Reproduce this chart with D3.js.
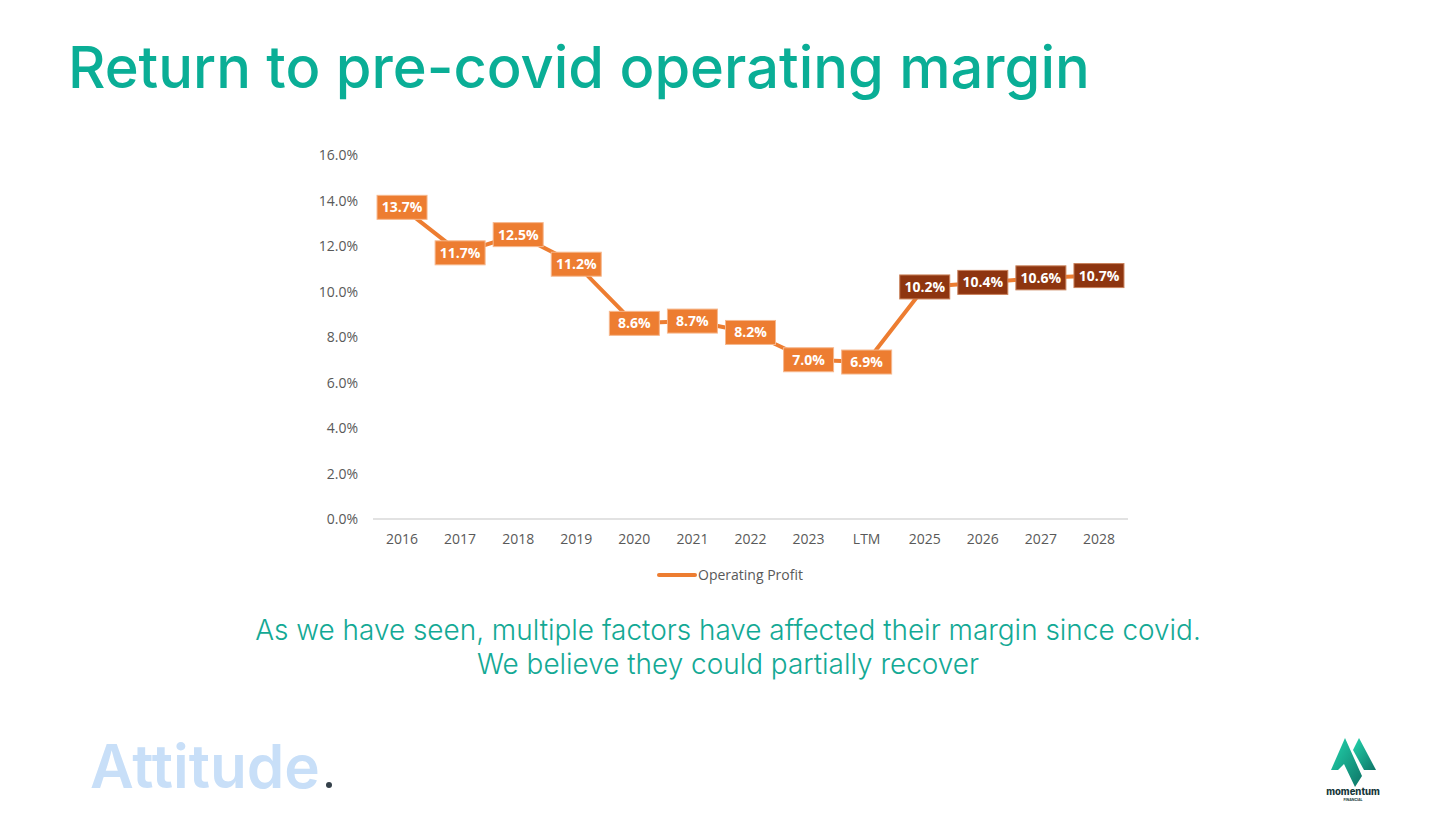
<!DOCTYPE html>
<html>
<head>
<meta charset="utf-8">
<script src="https://cdn.jsdelivr.net/npm/d3@7/dist/d3.min.js"></script>
<style>
  html, body { margin: 0; padding: 0; background: #ffffff; }
  svg { display: block; }
</style>
</head>
<body>
<div id="chart"></div>
<script>
// Chart data
const categories = ["2016", "2017", "2018", "2019", "2020", "2021", "2022", "2023", "LTM", "2025", "2026", "2027", "2028"];
const margins = [13.7, 11.7, 12.5, 11.2, 8.6, 8.7, 8.2, 7.0, 6.9, 10.2, 10.4, 10.6, 10.7];
const forecastCats = ["2025", "2026", "2027", "2028"];
const yTicks = [0, 2, 4, 6, 8, 10, 12, 14, 16];
const seriesName = "Operating Profit";

const titleText = "Return to pre-covid operating margin";
const subtitleLines = [
  "As we have seen, multiple factors have affected their margin since covid.",
  "We believe they could partially recover"
];

const W = 1456, H = 819;
const teal = "#0AAE96";
const lineColor = "#ED7D31";
const axisGray = "#595959";

const svg = d3.select("#chart")
  .append("svg")
  .attr("width", W)
  .attr("height", H)
  .attr("viewBox", `0 0 ${W} ${H}`);

// fit a text element to a target width by scaling its font size
function fitWidth(sel, target) {
  const fs = parseFloat(sel.attr("font-size"));
  const w = sel.node().getComputedTextLength();
  sel.attr("font-size", (fs * target / w).toFixed(2));
}

// Title
const title = svg.append("text")
  .attr("x", 68)
  .attr("y", 88)
  .attr("fill", teal)
  .attr("font-family", "Inter, 'Noto Sans', sans-serif")
  .attr("font-weight", 500)
  .attr("font-size", 58)
  .text(titleText);
fitWidth(title, 1022);

// Scales
const x = d3.scaleBand().domain(categories).range([373, 1128]);
const y = d3.scaleLinear().domain([0, 16]).range([519, 155]);

// Y axis labels (no axis line)
svg.append("g")
  .selectAll("text")
  .data(yTicks)
  .enter()
  .append("text")
  .attr("x", 358)
  .attr("y", (d) => y(d))
  .attr("dy", "0.36em")
  .attr("text-anchor", "end")
  .attr("fill", axisGray)
  .attr("font-family", "'Open Sans', 'Noto Sans', sans-serif")
  .attr("font-size", 14)
  .text((d) => d.toFixed(1) + "%");

// Baseline
svg.append("line")
  .attr("x1", x.range()[0])
  .attr("x2", x.range()[1])
  .attr("y1", y(0))
  .attr("y2", y(0))
  .attr("stroke", "#D9D9D9")
  .attr("stroke-width", 1.5);

// X axis labels
const xAxis = svg.append("g")
  .attr("transform", `translate(0, ${y(0)})`)
  .call(d3.axisBottom(x).tickSize(0).tickPadding(15));
xAxis.select(".domain").remove();
xAxis.selectAll("text")
  .attr("fill", axisGray)
  .attr("font-family", "'Open Sans', 'Noto Sans', sans-serif")
  .attr("font-size", 14);

// Line
const points = categories.map((c, i) => ({ cat: c, value: margins[i] }));
const line = d3.line()
  .x((d) => x(d.cat) + x.bandwidth() / 2)
  .y((d) => y(d.value));

svg.append("path")
  .datum(points)
  .attr("d", line)
  .attr("fill", "none")
  .attr("stroke", lineColor)
  .attr("stroke-width", 4)
  .attr("stroke-linejoin", "round");

// Data labels
const labelW = 50, labelH = 24;
const labels = svg.selectAll("g.data-label")
  .data(points)
  .enter()
  .append("g")
  .attr("class", "data-label")
  .attr("transform", (d) => `translate(${x(d.cat) + x.bandwidth() / 2}, ${y(d.value)})`);

labels.append("rect")
  .attr("x", -labelW / 2)
  .attr("y", -labelH / 2)
  .attr("width", labelW)
  .attr("height", labelH)
  .attr("fill", (d) => forecastCats.includes(d.cat) ? "#8E3510" : lineColor)
  .attr("stroke", (d) => forecastCats.includes(d.cat) ? "#C9805A" : "#F6B88E")
  .attr("stroke-width", 1);

labels.append("text")
  .attr("text-anchor", "middle")
  .attr("dy", "0.36em")
  .attr("fill", "#ffffff")
  .attr("font-family", "'Open Sans', 'Noto Sans', sans-serif")
  .attr("font-weight", 700)
  .attr("font-size", 14)
  .text((d) => d.value.toFixed(1) + "%");

// Legend
const legend = svg.append("g").attr("transform", "translate(659, 575)");
legend.append("line")
  .attr("x1", 0).attr("x2", 36)
  .attr("y1", 0).attr("y2", 0)
  .attr("stroke", lineColor)
  .attr("stroke-width", 4)
  .attr("stroke-linecap", "round");
legend.append("text")
  .attr("x", 39)
  .attr("dy", "0.36em")
  .attr("fill", axisGray)
  .attr("font-family", "'Open Sans', 'Noto Sans', sans-serif")
  .attr("font-size", 14)
  .text(seriesName);

// Subtitle
const sub = svg.append("g")
  .attr("fill", "#13A995")
  .attr("font-family", "Inter, 'Noto Sans', sans-serif")
  .attr("font-weight", 300)
  .attr("text-anchor", "middle");
const sub1 = sub.append("text")
  .attr("x", 728).attr("y", 640)
  .attr("font-size", 26)
  .text(subtitleLines[0]);
fitWidth(sub1, 946);
sub.append("text")
  .attr("x", 728).attr("y", 674)
  .attr("font-size", sub1.attr("font-size"))
  .text(subtitleLines[1]);

// Footer: Attitude.
const att = svg.append("text")
  .attr("x", 90)
  .attr("y", 788)
  .attr("font-family", "Inter, 'Noto Sans', sans-serif")
  .attr("font-weight", 600)
  .attr("font-size", 54)
  .attr("fill", "#C8DFF8")
  .text("Attitude");
fitWidth(att, 230);
svg.append("circle")
  .attr("cx", 329)
  .attr("cy", 785)
  .attr("r", 3)
  .attr("fill", "#34404A");

// Footer: momentum logo
const defs = svg.append("defs");
const grad = defs.append("linearGradient")
  .attr("id", "mgrad")
  .attr("x1", "0%").attr("y1", "0%")
  .attr("x2", "100%").attr("y2", "100%");
grad.append("stop").attr("offset", "0%").attr("stop-color", "#22D6AE");
grad.append("stop").attr("offset", "100%").attr("stop-color", "#0E7466");

const logo = svg.append("g");
logo.append("polygon")
  .attr("points", "1331,770 1345,738 1362,776 1355,787 1344,764 1338,770")
  .attr("fill", "url(#mgrad)");
logo.append("polygon")
  .attr("points", "1353,750 1359,738 1376,770 1364,770")
  .attr("fill", "url(#mgrad)");
logo.append("text")
  .attr("x", 1353)
  .attr("y", 795)
  .attr("text-anchor", "middle")
  .attr("font-family", "Inter, 'Noto Sans', sans-serif")
  .attr("font-weight", 800)
  .attr("font-size", 9.5)
  .attr("fill", "#17383A")
  .text("momentum");
logo.append("text")
  .attr("x", 1353)
  .attr("y", 800.5)
  .attr("text-anchor", "middle")
  .attr("font-family", "Inter, 'Noto Sans', sans-serif")
  .attr("font-weight", 700)
  .attr("font-size", 3.5)
  .attr("fill", "#17383A")
  .text("FINANCIAL");
</script>
</body>
</html>
